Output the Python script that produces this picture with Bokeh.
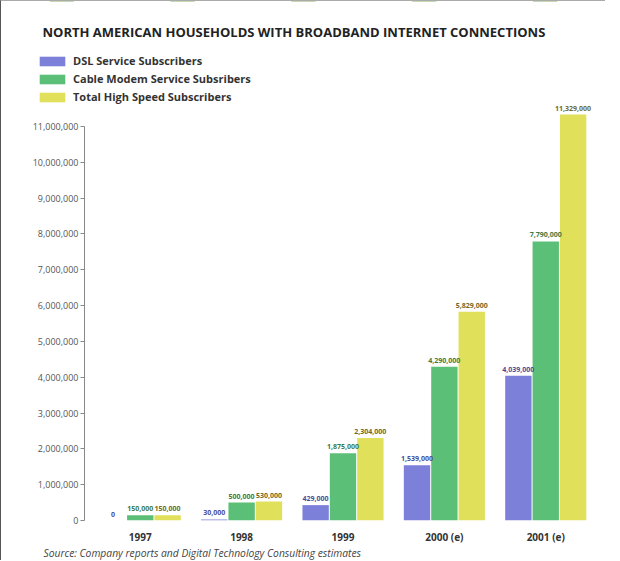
from bokeh.plotting import figure
from bokeh.layouts import column
from bokeh.models import (ColumnDataSource, FactorRange, Range1d, NumeralTickFormatter,
                          FixedTicker, Legend, LegendItem, LabelSet, Label)
from bokeh.core.properties import value
from bokeh.transform import dodge
from bokeh.embed import file_html
from bokeh.resources import INLINE

years = ["1997", "1998", "1999", "2000 (e)", "2001 (e)"]
dsl = [0, 30000, 429000, 1539000, 4039000]
cable = [150000, 500000, 1875000, 4290000, 7790000]
total = [150000, 530000, 2304000, 5829000, 11329000]
series_names = ["DSL Service Subscribers", "Cable Modem Service Subsribers", "Total High Speed Subscribers"]
y_ticks = list(range(0, 11000001, 1000000))
title_text = "NORTH AMERICAN HOUSEHOLDS WITH BROADBAND INTERNET CONNECTIONS"
source_text = "Source:  Company reports and Digital Technology Consulting estimates"

colors = ["#7c80d8", "#5cbf78", "#e0e05a"]
label_colors = ["#4a4c9a", "#3d7a45", "#6e6a2a"]
FONT = "Open Sans"
keys = ["dsl", "cable", "total"]

def fmt(v):
    return f"{v:,}"

src = ColumnDataSource(dict(
    years=years, dsl=dsl, cable=cable, total=total,
    dsl_l=[fmt(v) for v in dsl], cable_l=[fmt(v) for v in cable], total_l=[fmt(v) for v in total],
))

# ---- header: title + legend ----
h = figure(width=604, height=103, x_range=FactorRange(*years), y_range=Range1d(-10, -5),
           output_backend="svg", toolbar_location=None, x_axis_location=None,
           y_axis_location=None, min_border=0)
h.frame_align = False
h.outline_line_color = None
h.grid.grid_line_color = None
hrs = [h.vbar(x="years", top=k, width=0.2, source=src, fill_color=c, line_color=None)
       for k, c in zip(keys, colors)]
h.add_layout(Label(x=41, y=73, x_units="screen", y_units="screen", text=title_text,
                   text_font=FONT, text_font_size="13px", text_font_style="bold",
                   text_color="#222", text_baseline="middle"))
legend = Legend(items=[LegendItem(label=n, renderers=[r]) for n, r in zip(series_names, hrs)],
                location=(35, 0), orientation="vertical",
                glyph_width=32, glyph_height=12, label_height=12, spacing=3, padding=0, margin=0,
                label_standoff=5, label_text_font=FONT, label_text_font_size="11px",
                label_text_font_style="bold", label_text_color="#333",
                background_fill_alpha=0, border_line_color=None)
h.add_layout(legend, "center")

# ---- main chart ----
p = figure(width=604, height=442, x_range=FactorRange(*years, range_padding=0.02),
           y_range=Range1d(0, 11610000), output_backend="svg", toolbar_location=None,
           min_border_left=83, min_border_right=4, min_border_top=0, min_border_bottom=25)
p.frame_align = False
p.outline_line_color = None
p.xgrid.grid_line_color = None
p.ygrid.grid_line_color = None

w = 0.26
offs = [-0.27, 0.0, 0.27]
for k, off, c, lc in zip(keys, offs, colors, label_colors):
    p.vbar(x=dodge("years", off, range=p.x_range), top=k, width=w, source=src,
           fill_color=c, line_color=None)
    p.add_layout(LabelSet(x=dodge("years", off, range=p.x_range), y=k, text=k + "_l", source=src,
                          text_align="center", text_baseline="bottom", y_offset=4,
                          text_font=value(FONT), text_font_size="7px", text_color=lc,
                          text_font_style="bold"))

ya = p.yaxis[0]
ya.ticker = FixedTicker(ticks=y_ticks)
ya.formatter = NumeralTickFormatter(format="0,0")
ya.bounds = (0, 11000000)
ya.axis_line_color = "#888"
ya.major_tick_line_color = "#888"
ya.major_tick_out = 4
ya.major_tick_in = 0
ya.minor_tick_line_color = None
ya.major_label_text_font = FONT
ya.major_label_text_font_size = "9px"
ya.major_label_text_color = "#555"
ya.major_label_standoff = 2

xa = p.xaxis[0]
xa.axis_line_color = None
xa.major_tick_line_color = None
xa.minor_tick_line_color = None
xa.major_label_text_font = FONT
xa.major_label_text_font_size = "10px"
xa.major_label_text_font_style = "bold"
xa.major_label_text_color = "#333"
xa.major_label_standoff = 3

# ---- footer: source ----
f = figure(width=604, height=14, x_range=Range1d(0, 1), y_range=Range1d(0, 1),
           output_backend="svg", toolbar_location=None, x_axis_location=None,
           y_axis_location=None, min_border=0)
f.frame_align = False
f.outline_line_color = None
f.grid.grid_line_color = None
f.add_layout(Label(x=42, y=8, x_units="screen", y_units="screen", text=source_text,
                   text_font=FONT, text_font_size="10.3px", text_font_style="italic",
                   text_color="#444", text_baseline="middle"))

lay = column(h, p, f, spacing=0)
lay.styles = {"border-left": "1px solid #555", "border-top": "1px solid #aaa"}
open("out.html", "w").write(file_html(lay, INLINE))
